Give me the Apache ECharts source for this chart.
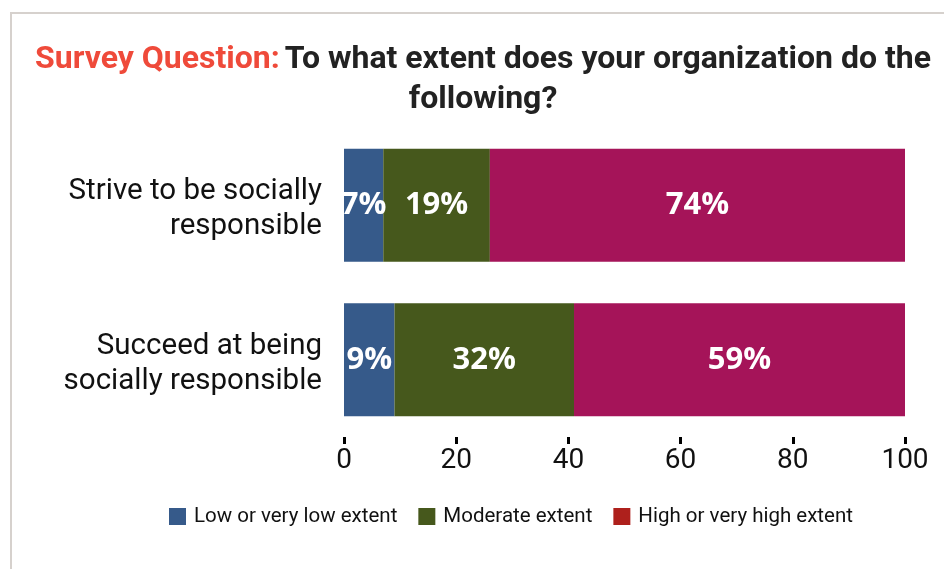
<!DOCTYPE html>
<html>
<head>
<meta charset="utf-8">
<script src="https://cdn.jsdelivr.net/npm/echarts@6/dist/echarts.min.js"></script>
<style>
  html, body { margin: 0; padding: 0; background: #fff; }
  #chart { width: 944px; height: 569px; }
</style>
</head>
<body>
<div id="chart"></div>
<script>
// Survey items (top to bottom) and share of answers per extent level
const categories = ['Strive to be socially\nresponsible', 'Succeed at being\nsocially responsible'];
const seriesNames = ['Low or very low extent', 'Moderate extent', 'High or very high extent'];
const lowValues = [7, 9];
const moderateValues = [19, 32];
const highValues = [74, 59];
const xTicks = [0, 20, 40, 60, 80, 100];

const barColors = ['#365a8a', '#46581c', '#a51459'];
const legendColors = ['#365a8a', '#46581c', '#ae201c'];
const valueSets = [lowValues, moderateValues, highValues];

const chart = echarts.init(document.getElementById('chart'), null, { renderer: 'canvas' });

const series = seriesNames.map((name, i) => ({
  name: name,
  type: 'bar',
  stack: 'total',
  barWidth: '73%',
  data: valueSets[i],
  itemStyle: { color: barColors[i] },
  label: {
    show: true,
    position: 'inside',
    formatter: '{c}%',
    color: '#ffffff',
    fontFamily: 'Open Sans',
    fontWeight: 'bold',
    fontSize: 31
  },
  emphasis: { disabled: true }
}));

// Category label: a thin spacer line on top nudges the two text lines down a bit
const categoryLabel = v => '{s| }\n' + v.split('\n').map(l => '{t|' + l + '}').join('\n');

chart.setOption({
  animation: false,
  backgroundColor: '#ffffff',
  graphic: [
    { type: 'rect', shape: { x: 10, y: 12, width: 934, height: 2 }, style: { fill: '#d6d1cd' }, silent: true },
    { type: 'rect', shape: { x: 10, y: 12, width: 2, height: 557 }, style: { fill: '#d6d1cd' }, silent: true }
  ],
  title: {
    text: '{a|Survey Question:} {b|To what extent does your organization do the}\n{b|following?}',
    left: 478,
    textAlign: 'center',
    top: 35,
    textStyle: {
      rich: {
        a: { fontFamily: 'Roboto', fontWeight: 'bold', fontSize: 32, color: '#ef4a3a', lineHeight: 40 },
        b: { fontFamily: 'Roboto', fontWeight: 'bold', fontSize: 32, color: '#222222', lineHeight: 40 }
      }
    }
  },
  legend: {
    bottom: 37,
    left: 164,
    itemWidth: 17,
    itemHeight: 17,
    itemGap: 21,
    icon: 'rect',
    textStyle: { fontFamily: 'Roboto', fontSize: 20.5, color: '#111111', padding: [0, 0, 0, 3] },
    data: seriesNames.map((n, i) => ({ name: n, itemStyle: { color: legendColors[i] } }))
  },
  grid: { left: 344, right: 39, top: 128, bottom: 132 },
  xAxis: {
    type: 'value',
    min: 0,
    max: 100,
    interval: 20,
    axisLine: { show: false },
    splitLine: { show: false },
    axisTick: { show: true, length: 7, lineStyle: { color: '#000', width: 3 } },
    axisLabel: {
      fontFamily: 'Roboto',
      fontSize: 28,
      color: '#111111',
      margin: 10,
      formatter: v => (xTicks.indexOf(v) >= 0 ? String(v) : '')
    }
  },
  yAxis: {
    type: 'category',
    inverse: true,
    data: categories,
    axisLine: { show: false },
    axisTick: { show: false },
    axisLabel: {
      margin: 22,
      align: 'right',
      formatter: categoryLabel,
      rich: {
        s: { fontSize: 4, lineHeight: 8 },
        t: { fontFamily: 'Roboto', fontSize: 29.5, lineHeight: 35, color: '#111111', align: 'right' }
      }
    }
  },
  series: series
});
</script>
</body>
</html>
